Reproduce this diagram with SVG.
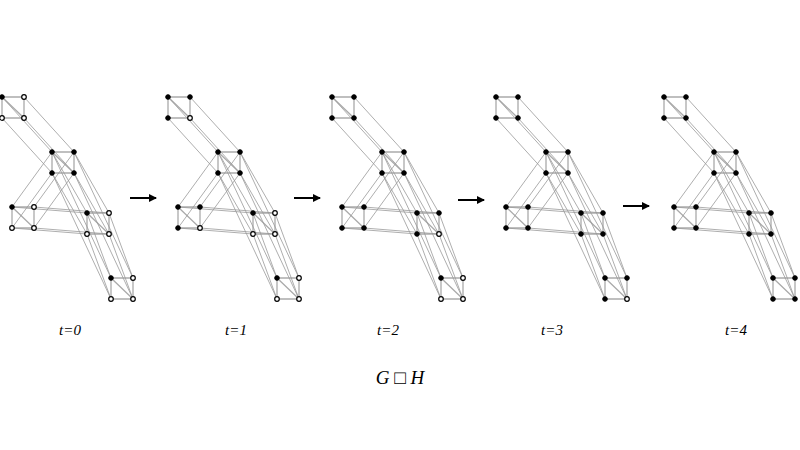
<svg xmlns="http://www.w3.org/2000/svg" xmlns:xlink="http://www.w3.org/1999/xlink" width="800" height="450" viewBox="0 0 800 450">
<style>
.e{stroke:#999;stroke-width:0.8;fill:none}
.h{stroke:#aaa;stroke-width:1.3;fill:none}
.f{fill:#000;stroke:#000;stroke-width:1}
.o{fill:#fff;stroke:#000;stroke-width:1.2}
.lbl{font-family:"Liberation Serif",serif;font-style:italic;font-size:15px;text-anchor:middle}
.arr{stroke:#000;stroke-width:2}
</style>
<defs>
<marker id="ah" markerWidth="8" markerHeight="8" refX="7" refY="4" orient="auto" markerUnits="userSpaceOnUse"><path d="M0,0 L8,4 L0,8 z" fill="#000"/></marker>
<g id="graph">
<path class="h" d="M2,97H24V118H2Z M2,97L24,118 M52,152H74V173H52Z M52,152L74,173 M12,207H34V228H12Z M12,207L34,228 M87,213H109V234H87Z M87,213L109,234 M111,278H133V299H111Z M111,278L133,299"/>
<path class="e" d="M2,97L52,152 M24,97L74,152 M2,118L52,173 M24,118L74,173
M52,152L12,207 M74,152L34,207 M52,173L12,228 M74,173L34,228
M52,152L87,213 M74,152L109,213 M52,173L87,234 M74,173L109,234
M12,207L87,213 M34,207L109,213 M12,228L87,234 M34,228L109,234
M87,213L111,278 M109,213L133,278 M87,234L111,299 M109,234L133,299
M52,152L111,278 M74,152L133,278 M52,173L111,299 M74,173L133,299"/>
</g>
</defs>
<g id="connectors">
<use xlink:href="#graph"/>
<use xlink:href="#graph" x="166"/>
<use xlink:href="#graph" x="330"/>
<use xlink:href="#graph" x="494"/>
<use xlink:href="#graph" x="662"/>
<line class="arr" x1="130" y1="198" x2="156" y2="198" marker-end="url(#ah)"/>
<line class="arr" x1="294" y1="198" x2="320" y2="198" marker-end="url(#ah)"/>
<line class="arr" x1="458" y1="200" x2="484" y2="200" marker-end="url(#ah)"/>
<line class="arr" x1="623" y1="206" x2="649" y2="206" marker-end="url(#ah)"/>
</g>
<g id="panel0">
<circle class="f" cx="2" cy="97" r="2.3"/><circle class="o" cx="24" cy="97" r="2.3"/><circle class="o" cx="2" cy="118" r="2.3"/><circle class="o" cx="24" cy="118" r="2.3"/>
<circle class="f" cx="52" cy="152" r="2.3"/><circle class="f" cx="74" cy="152" r="2.3"/><circle class="f" cx="52" cy="173" r="2.3"/><circle class="f" cx="74" cy="173" r="2.3"/>
<circle class="f" cx="12" cy="207" r="2.3"/><circle class="o" cx="34" cy="207" r="2.3"/><circle class="o" cx="12" cy="228" r="2.3"/><circle class="o" cx="34" cy="228" r="2.3"/>
<circle class="f" cx="87" cy="213" r="2.3"/><circle class="o" cx="109" cy="213" r="2.3"/><circle class="o" cx="87" cy="234" r="2.3"/><circle class="o" cx="109" cy="234" r="2.3"/>
<circle class="f" cx="111" cy="278" r="2.3"/><circle class="o" cx="133" cy="278" r="2.3"/><circle class="o" cx="111" cy="299" r="2.3"/><circle class="o" cx="133" cy="299" r="2.3"/>
<text class="lbl" x="70" y="335">t=0</text>
</g>
<g id="panel1" transform="translate(166,0)">
<circle class="f" cx="2" cy="97" r="2.3"/><circle class="f" cx="24" cy="97" r="2.3"/><circle class="f" cx="2" cy="118" r="2.3"/><circle class="o" cx="24" cy="118" r="2.3"/>
<circle class="f" cx="52" cy="152" r="2.3"/><circle class="f" cx="74" cy="152" r="2.3"/><circle class="f" cx="52" cy="173" r="2.3"/><circle class="f" cx="74" cy="173" r="2.3"/>
<circle class="f" cx="12" cy="207" r="2.3"/><circle class="f" cx="34" cy="207" r="2.3"/><circle class="f" cx="12" cy="228" r="2.3"/><circle class="o" cx="34" cy="228" r="2.3"/>
<circle class="f" cx="87" cy="213" r="2.3"/><circle class="o" cx="109" cy="213" r="2.3"/><circle class="o" cx="87" cy="234" r="2.3"/><circle class="o" cx="109" cy="234" r="2.3"/>
<circle class="f" cx="111" cy="278" r="2.3"/><circle class="o" cx="133" cy="278" r="2.3"/><circle class="o" cx="111" cy="299" r="2.3"/><circle class="o" cx="133" cy="299" r="2.3"/>
<text class="lbl" x="70" y="335">t=1</text>
</g>
<g id="panel2" transform="translate(330,0)">
<circle class="f" cx="2" cy="97" r="2.3"/><circle class="f" cx="24" cy="97" r="2.3"/><circle class="f" cx="2" cy="118" r="2.3"/><circle class="f" cx="24" cy="118" r="2.3"/>
<circle class="f" cx="52" cy="152" r="2.3"/><circle class="f" cx="74" cy="152" r="2.3"/><circle class="f" cx="52" cy="173" r="2.3"/><circle class="f" cx="74" cy="173" r="2.3"/>
<circle class="f" cx="12" cy="207" r="2.3"/><circle class="f" cx="34" cy="207" r="2.3"/><circle class="f" cx="12" cy="228" r="2.3"/><circle class="f" cx="34" cy="228" r="2.3"/>
<circle class="f" cx="87" cy="213" r="2.3"/><circle class="f" cx="109" cy="213" r="2.3"/><circle class="f" cx="87" cy="234" r="2.3"/><circle class="o" cx="109" cy="234" r="2.3"/>
<circle class="f" cx="111" cy="278" r="2.3"/><circle class="o" cx="133" cy="278" r="2.3"/><circle class="o" cx="111" cy="299" r="2.3"/><circle class="o" cx="133" cy="299" r="2.3"/>
<text class="lbl" x="58" y="335">t=2</text>
</g>
<g id="panel3" transform="translate(494,0)">
<circle class="f" cx="2" cy="97" r="2.3"/><circle class="f" cx="24" cy="97" r="2.3"/><circle class="f" cx="2" cy="118" r="2.3"/><circle class="f" cx="24" cy="118" r="2.3"/>
<circle class="f" cx="52" cy="152" r="2.3"/><circle class="f" cx="74" cy="152" r="2.3"/><circle class="f" cx="52" cy="173" r="2.3"/><circle class="f" cx="74" cy="173" r="2.3"/>
<circle class="f" cx="12" cy="207" r="2.3"/><circle class="f" cx="34" cy="207" r="2.3"/><circle class="f" cx="12" cy="228" r="2.3"/><circle class="f" cx="34" cy="228" r="2.3"/>
<circle class="f" cx="87" cy="213" r="2.3"/><circle class="f" cx="109" cy="213" r="2.3"/><circle class="f" cx="87" cy="234" r="2.3"/><circle class="f" cx="109" cy="234" r="2.3"/>
<circle class="f" cx="111" cy="278" r="2.3"/><circle class="f" cx="133" cy="278" r="2.3"/><circle class="f" cx="111" cy="299" r="2.3"/><circle class="o" cx="133" cy="299" r="2.3"/>
<text class="lbl" x="58" y="335">t=3</text>
</g>
<g id="panel4" transform="translate(662,0)">
<circle class="f" cx="2" cy="97" r="2.3"/><circle class="f" cx="24" cy="97" r="2.3"/><circle class="f" cx="2" cy="118" r="2.3"/><circle class="f" cx="24" cy="118" r="2.3"/>
<circle class="f" cx="52" cy="152" r="2.3"/><circle class="f" cx="74" cy="152" r="2.3"/><circle class="f" cx="52" cy="173" r="2.3"/><circle class="f" cx="74" cy="173" r="2.3"/>
<circle class="f" cx="12" cy="207" r="2.3"/><circle class="f" cx="34" cy="207" r="2.3"/><circle class="f" cx="12" cy="228" r="2.3"/><circle class="f" cx="34" cy="228" r="2.3"/>
<circle class="f" cx="87" cy="213" r="2.3"/><circle class="f" cx="109" cy="213" r="2.3"/><circle class="f" cx="87" cy="234" r="2.3"/><circle class="f" cx="109" cy="234" r="2.3"/>
<circle class="f" cx="111" cy="278" r="2.3"/><circle class="f" cx="133" cy="278" r="2.3"/><circle class="f" cx="111" cy="299" r="2.3"/><circle class="f" cx="133" cy="299" r="2.3"/>
<text class="lbl" x="74" y="335">t=4</text>
</g>
<text x="400" y="384" font-family="'Liberation Serif','DejaVu Serif',serif" font-size="19" text-anchor="middle"><tspan font-style="italic">G</tspan> □ <tspan font-style="italic">H</tspan></text>
</svg>
